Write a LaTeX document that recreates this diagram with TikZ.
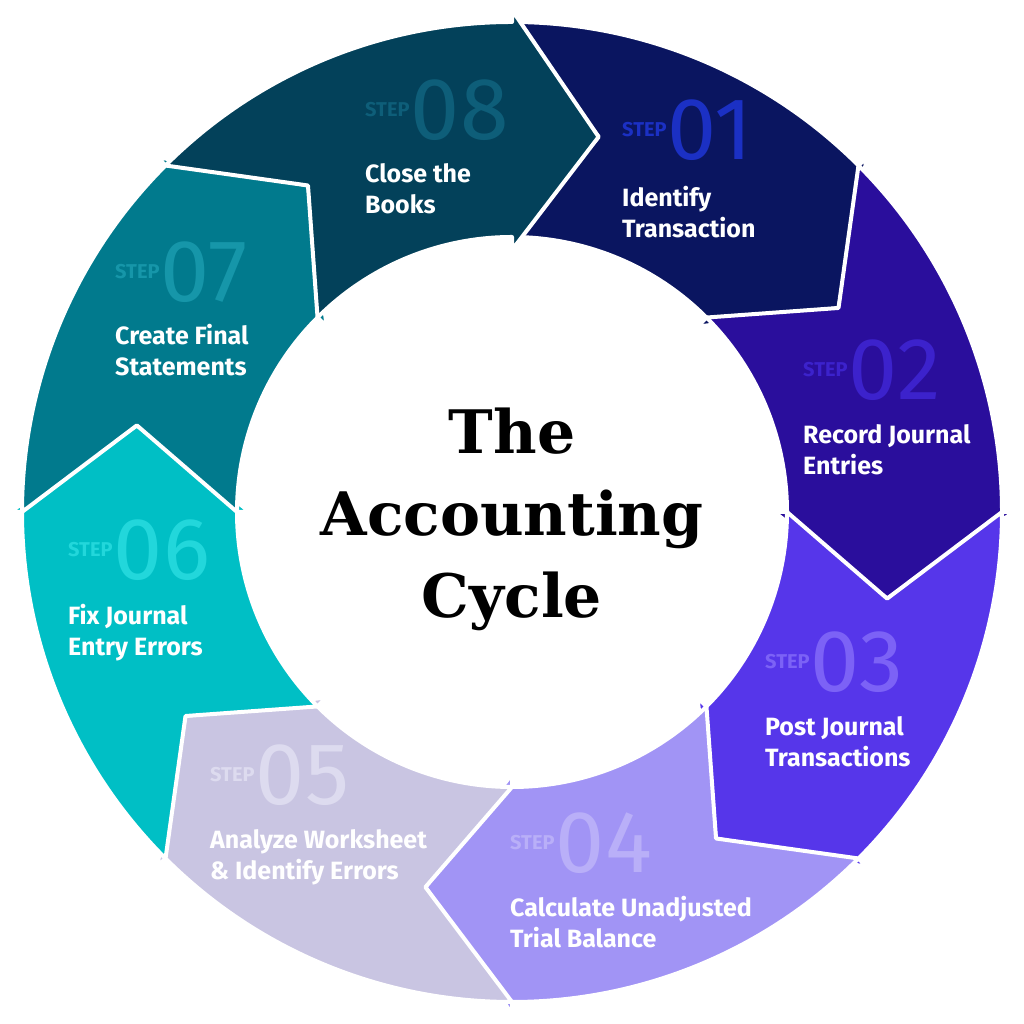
\documentclass[tikz,border=0pt]{standalone}
\usepackage{fontspec}
\setmainfont{Fira Sans}
\newfontfamily\slabfont{DejaVu Serif}
\usetikzlibrary{positioning}

\definecolor{segA}{HTML}{0A1560}
\definecolor{segB}{HTML}{2A0E9C}
\definecolor{segC}{HTML}{5636EA}
\definecolor{segD}{HTML}{A194F5}
\definecolor{segE}{HTML}{C9C5E2}
\definecolor{segF}{HTML}{00BFC5}
\definecolor{segG}{HTML}{017A8D}
\definecolor{segH}{HTML}{03415A}
\definecolor{numA}{HTML}{1B30C4}
\definecolor{numB}{HTML}{3C22CC}
\definecolor{numC}{HTML}{7C62F6}
\definecolor{numD}{HTML}{B9AFF8}
\definecolor{numE}{HTML}{DDDBEF}
\definecolor{numF}{HTML}{22D7DB}
\definecolor{numG}{HTML}{1696A9}
\definecolor{numH}{HTML}{0E5E79}

\tikzset{
  seg/.style={draw=white, line width=4pt, line join=round},
  steplbl/.style={inner sep=0pt, anchor=west, font=\bfseries\fontsize{20}{20}\selectfont},
  stepnum/.style={inner sep=0pt, anchor=west, font=\fontsize{88}{88}\selectfont},
  steptxt/.style={inner sep=0pt, anchor=north west, align=left, text=white,
    font=\bfseries\fontsize{25}{31}\selectfont}
}

\begin{document}
\begin{tikzpicture}[x=1pt, y=1pt]
\useasboundingbox (0,0) rectangle (1024,1024);
% ring segments: tip angle / colour
\begin{scope}[shift={(512,512)}]
\foreach \e/\c in {32/segA, -13/segB, -58/segC, -103/segD, -148/segE, 167/segF, 122/segG, 77/segH}{
  \pgfmathsetmacro{\s}{\e+45}
  \pgfmathsetmacro{\w}{\e+13}
  \pgfmathsetmacro{\t}{\s+13}
  \path[seg, fill=\c] (\t:490) arc[start angle=\t, end angle=\w, radius=490]
    -- (\w:502) -- (\e:385) -- (\w:262) -- (\w:275)
    arc[start angle=\w, end angle=\t, radius=275] -- (\s:385) -- cycle;
}
\end{scope}

% step labels
\node (l1) [steplbl, text=numA] at (622,894) {STEP};
\node (n1) [stepnum, text=numA, right=1pt of l1] {01};
\node (s1) [steptxt] at (622,838) {Identify\\Transaction};
\node (l2) [steplbl, text=numB] at (803,654) {STEP};
\node (n2) [stepnum, text=numB, right=1pt of l2] {02};
\node (s2) [steptxt] at (803,600) {Record Journal\\Entries};
\node (l3) [steplbl, text=numC] at (765,362) {STEP};
\node (n3) [stepnum, text=numC, right=1pt of l3] {03};
\node (s3) [steptxt] at (765,308) {Post Journal\\Transactions};
\node (l4) [steplbl, text=numD] at (510,181) {STEP};
\node (n4) [stepnum, text=numD, right=1pt of l4] {04};
\node (s4) [steptxt] at (510,128) {Calculate Unadjusted\\Trial Balance};
\node (l5) [steplbl, text=numE] at (210,249) {STEP};
\node (n5) [stepnum, text=numE, right=1pt of l5] {05};
\node (s5) [steptxt] at (210,195) {Analyze Worksheet\\\& Identify Errors};
\node (l6) [steplbl, text=numF] at (68,474) {STEP};
\node (n6) [stepnum, text=numF, right=1pt of l6] {06};
\node (s6) [steptxt] at (68,420) {Fix Journal\\Entry Errors};
\node (l7) [steplbl, text=numG] at (115,752) {STEP};
\node (n7) [stepnum, text=numG, right=1pt of l7] {07};
\node (s7) [steptxt] at (115,700) {Create Final\\Statements};
\node (l8) [steplbl, text=numH] at (365,914) {STEP};
\node (n8) [stepnum, text=numH, right=1pt of l8] {08};
\node (s8) [steptxt] at (365,861) {Close the\\Books};

% centre title
\node (title) [align=center, inner sep=0pt, font=\slabfont\bfseries\fontsize{60}{82}\selectfont]
  at (512,505) {The\\Accounting\\Cycle};
\end{tikzpicture}
\end{document}
